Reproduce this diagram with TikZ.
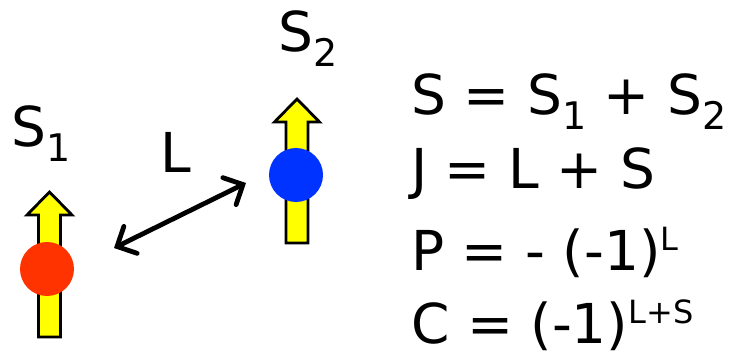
\documentclass[tikz,border=0pt]{standalone}
\usepackage{fontspec}
\setmainfont{DejaVu Sans}
\usetikzlibrary{arrows.meta}
\definecolor{spinyellow}{RGB}{255,255,0}
\definecolor{partred}{RGB}{255,51,0}
\definecolor{partblue}{RGB}{0,51,255}
\newcommand{\bigtxt}{\fontsize{55}{60}\selectfont}
\newcommand{\lowsub}[1]{\raisebox{-15pt}{\fontsize{38}{40}\selectfont #1}}
\newcommand{\highsup}[1]{\raisebox{20pt}{\fontsize{32}{34}\selectfont #1}}
\tikzset{barbtip/.tip={Straight Barb[length=15pt,width=30pt,line cap=round]}}
\begin{document}
\begin{tikzpicture}[x=1pt,y=-1pt,
  txt/.style={inner sep=0pt,anchor=base west,font=\bigtxt},
  spin/.style={fill=spinyellow,draw=black,line width=2.8pt,line join=miter},
  ball/.style={circle,inner sep=0pt,minimum size=54pt}]
\useasboundingbox (0,0) rectangle (730,358);
% spin arrows
\draw[spin] (38.5,337) -- (38.5,215) -- (27,215) -- (49.5,192) -- (72,215) -- (60.5,215) -- (60.5,337) -- cycle;
\draw[spin] (286,243) -- (286,122) -- (274.5,122) -- (297,99) -- (319.5,122) -- (308,122) -- (308,243) -- cycle;
\node[ball,fill=partred] (p1) at (47,269) {};
\node[ball,fill=partblue] (p2) at (296,175) {};
% labels
\node[txt] (s1) at (11,147) {S\lowsub{1}};
\node[txt] (s2) at (278,52) {S\lowsub{2}};
\node[txt] (lab) at (160,173) {L};
% double arrow
\coordinate (a1) at (114,248);
\coordinate (a2) at (246,183);
\draw[line width=4.8pt,line cap=round,barbtip-barbtip] (a1) -- (a2);
% equations
\node[txt] (e1) at (411,115) {S = S\lowsub{1} + S\lowsub{2}};
\node[txt] (e2) at (411,189) {J = L + S};
\node[txt] (e3) at (411,270) {P = - (-1)\highsup{L}};
\node[txt] (e4) at (411,343) {C = (-1)\highsup{L+S}};
\end{tikzpicture}
\end{document}
